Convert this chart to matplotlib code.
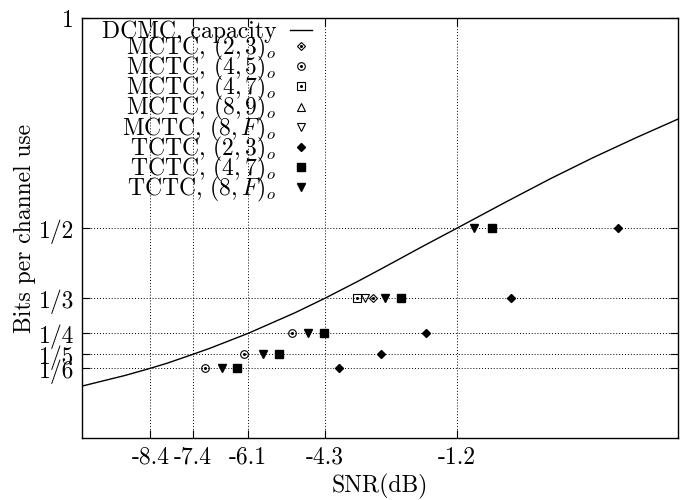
import matplotlib
matplotlib.use("Agg")
import matplotlib.pyplot as plt
from matplotlib.legend_handler import HandlerTuple

plt.rcParams['font.family'] = 'serif'
plt.rcParams['font.serif'] = ['cmr10', 'DejaVu Serif']
plt.rcParams['mathtext.fontset'] = 'cm'
plt.rcParams['axes.unicode_minus'] = False
plt.rcParams['axes.formatter.use_mathtext'] = True

# DCMC capacity curve
cap_snr = [-10, -9, -8.4, -8, -7.4, -7, -6.1, -5, -4.3, -3.5, -3, -2, -1.2,
           -0.5, 0, 1, 2, 3, 4]
cap_rate = [0.1245, 0.1495, 0.1667, 0.179, 0.200, 0.2144, 0.250, 0.299, 0.3333,
            0.375, 0.402, 0.457, 0.500, 0.538, 0.565, 0.618, 0.668, 0.715, 0.760]

# MCTC series
mctc23_snr = [-3.16]
mctc23_rate = [1/3]
mctc45_snr = [-5.07, -6.21, -7.11]
mctc45_rate = [1/4, 1/5, 1/6]
mctc47_snr = [-3.54]
mctc47_rate = [1/3]
mctc89_snr = []
mctc89_rate = []
mctc8F_snr = [-3.36]
mctc8F_rate = [1/3]

# TCTC series
tctc23_snr = [2.58, 0.08, -1.92, -2.97, -3.97]
tctc23_rate = [1/2, 1/3, 1/4, 1/5, 1/6]
tctc47_snr = [-0.36, -2.51, -4.33, -5.37, -6.36]
tctc47_rate = [1/2, 1/3, 1/4, 1/5, 1/6]
tctc8F_snr = [-0.80, -2.89, -4.69, -5.76, -6.72]
tctc8F_rate = [1/2, 1/3, 1/4, 1/5, 1/6]

xticks = [-8.4, -7.4, -6.1, -4.3, -1.2]
xtick_labels = ['-8.4', '-7.4', '-6.1', '-4.3', '-1.2']
yticks = [1/6, 1/5, 1/4, 1/3, 1/2, 1]
ytick_labels = ['1/6', '1/5', '1/4', '1/3', '1/2', '1']

fig = plt.figure(figsize=(6.86, 5.0), dpi=100)
ax = fig.add_axes([0.12, 0.1234, 0.8683, 0.84])

FS = 17
ax.set_xlim(-10, 4)
ax.set_ylim(0, 1)
ax.set_xticks(xticks)
ax.set_xticklabels(xtick_labels, fontsize=FS)
ax.set_yticks(yticks)
ax.set_yticklabels(ytick_labels, fontsize=FS)
ax.tick_params(direction='in', length=6, width=0.8, top=True, right=True, pad=6)
ax.grid(True, linestyle=(0, (1, 2)), color='black', linewidth=0.7)
for s in ax.spines.values():
    s.set_linewidth(1.0)

ax.set_xlabel('SNR(dB)', fontsize=FS, labelpad=4)
ax.set_ylabel('Bits per channel use', fontsize=FS, labelpad=2)

lc, = ax.plot(cap_snr, cap_rate, color='black', linewidth=1.0)

def open_marker(xs, ys, m, ms):
    h1, = ax.plot(xs, ys, linestyle='none', marker=m, markersize=ms,
                  markerfacecolor='none', markeredgecolor='black', markeredgewidth=0.8)
    h2, = ax.plot(xs, ys, linestyle='none', marker='o', markersize=1.2,
                  markerfacecolor='black', markeredgecolor='black')
    return (h1, h2)

h23 = open_marker(mctc23_snr, mctc23_rate, 'D', 4.5)
h45 = open_marker(mctc45_snr, mctc45_rate, 'o', 5.5)
h47 = open_marker(mctc47_snr, mctc47_rate, 's', 5.5)
h89, = ax.plot(mctc89_snr, mctc89_rate, linestyle='none', marker='^', markersize=5.5,
               markerfacecolor='none', markeredgecolor='black', markeredgewidth=0.8)
h8F, = ax.plot(mctc8F_snr, mctc8F_rate, linestyle='none', marker='v', markersize=5.5,
               markerfacecolor='none', markeredgecolor='black', markeredgewidth=0.8)
t23, = ax.plot(tctc23_snr, tctc23_rate, linestyle='none', marker='D', markersize=4.0,
               color='black')
t47, = ax.plot(tctc47_snr, tctc47_rate, linestyle='none', marker='s', markersize=6.0,
               color='black')
t8F, = ax.plot(tctc8F_snr, tctc8F_rate, linestyle='none', marker='v', markersize=5.5,
               color='black')

handles = [lc, h23, h45, h47, h89, h8F, t23, t47, t8F]
labels = ['DCMC, capacity', r'MCTC, $(2,3)_o$', r'MCTC, $(4,5)_o$', r'MCTC, $(4,7)_o$',
          r'MCTC, $(8,9)_o$', r'MCTC, $(8,F)_o$', r'TCTC, $(2,3)_o$', r'TCTC, $(4,7)_o$',
          r'TCTC, $(8,F)_o$']
leg = ax.legend(handles, labels, loc='upper right', bbox_to_anchor=(0.385, 0.995),
                frameon=False, markerfirst=False, fontsize=FS, labelspacing=-0.38,
                handlelength=0.9, handletextpad=0.6, borderpad=0.0, borderaxespad=0.0,
                handler_map={tuple: HandlerTuple(ndivide=1)})

fig.savefig('out.png', dpi=100)
